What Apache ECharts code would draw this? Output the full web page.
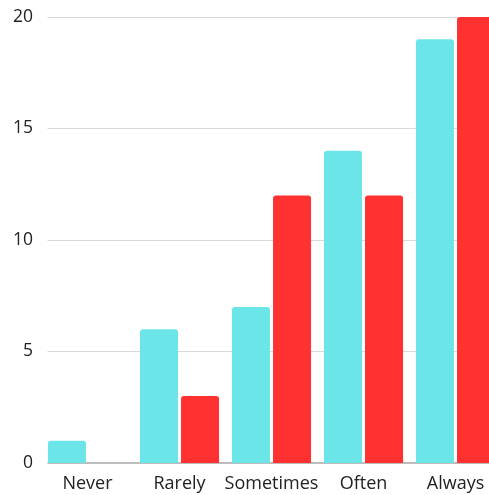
<!DOCTYPE html>
<html>
<head>
<meta charset="utf-8">
<script src="https://cdn.jsdelivr.net/npm/echarts@6/dist/echarts.min.js"></script>
<style>
  html, body { margin: 0; padding: 0; background: #fff; overflow: hidden; }
  #chart { width: 510px; height: 495px; }
</style>
</head>
<body>
<div id="chart"></div>
<script>
// Survey answers by frequency, two groups
const categories = ['Never', 'Rarely', 'Sometimes', 'Often', 'Always'];
const groupA = [1, 6, 7, 14, 19];
const groupB = [0, 3, 12, 12, 20];
const yTicks = { min: 0, max: 20, interval: 5 };

const chart = echarts.init(document.getElementById('chart'));
const font = '"Open Sans", "Noto Sans", sans-serif';

chart.setOption({
  animation: false,
  grid: { left: 41.5, top: 17, width: 460, height: 446 },
  xAxis: {
    type: 'category',
    data: categories,
    axisTick: { show: false },
    axisLine: { show: true, lineStyle: { color: '#bdbdbd', width: 2 } },
    axisLabel: { color: '#222', fontSize: 18, fontFamily: font, margin: 12, interval: 0 }
  },
  yAxis: {
    type: 'value',
    min: yTicks.min,
    max: yTicks.max,
    interval: yTicks.interval,
    axisLine: { show: false },
    axisTick: { show: false },
    splitLine: { lineStyle: { color: '#d9d9d9', width: 1 } },
    axisLabel: { color: '#222', fontSize: 17.5, fontFamily: font, margin: 8.5 }
  },
  series: [
    {
      type: 'bar',
      data: groupA,
      barGap: '8%',
      barCategoryGap: '14%',
      itemStyle: { color: '#6ce5e8', borderRadius: [3, 3, 0, 0] }
    },
    {
      type: 'bar',
      data: groupB,
      itemStyle: { color: '#ff3131', borderRadius: [3, 3, 0, 0] }
    }
  ],
  graphic: [
    {
      type: 'rect',
      z: 100,
      shape: { x: 40, y: 0, width: 7.5, height: 470 },
      style: { fill: '#fff' }
    }
  ]
});
</script>
</body>
</html>
